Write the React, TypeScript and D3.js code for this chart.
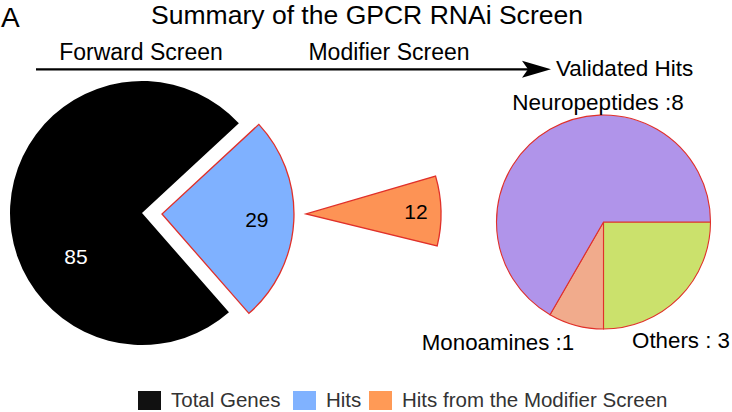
import React from "react";
import * as d3 from "d3";

const W = 732;
const H = 412;

const titleText = "Summary of the GPCR RNAi Screen";
const panelLabel = "A";
const stageLabels = ["Forward Screen", "Modifier Screen", "Validated Hits"];

const forwardCategories = ["Hits", "Total Genes"];
const forwardValues = [29, 85];

const modifierCategory = "Hits from the Modifier Screen";
const modifierValue = 12;

const validatedCategories = ["Others", "Monoamines", "Neuropeptides"];
const validatedValues = [3, 1, 8];
const validatedLabelText = ["Others : 3", "Monoamines :1", "Neuropeptides :8"];

const legendLabels = ["Total Genes", "Hits", "Hits from the Modifier Screen"];

const FONT = "'Liberation Sans', Arial, Helvetica, sans-serif";
const deg = Math.PI / 180;

export default function App() {
  // Forward screen pie
  const fc = { x: 142, y: 213 };
  const fr = 132;
  const hitsSpan = (forwardValues[0] / d3.sum(forwardValues)) * 2 * Math.PI;
  const hitsMid = 93 * deg;
  const fStart = hitsMid - hitsSpan / 2;
  const fPie = d3.pie<number>().sort(null).startAngle(fStart).endAngle(fStart + 2 * Math.PI);
  const fArcs = fPie(forwardValues);
  const fArc = d3.arc<d3.PieArcDatum<number>>().innerRadius(0).outerRadius(fr);
  const explode = 20;
  const hitsArc = fArcs[0];
  const hmid = (hitsArc.startAngle + hitsArc.endAngle) / 2;
  const hitsOff = { x: explode * Math.sin(hmid), y: -explode * Math.cos(hmid) };
  const hitsLabelPos = d3.arc<any>().innerRadius(95).outerRadius(95).centroid(hitsArc as any);

  // Modifier wedge
  const mc = { x: 306, y: 214 };
  const mr = 135;
  const angleScale = d3.scaleLinear().domain([0, 144]).range([0, 2 * Math.PI]);
  const mSpan = angleScale(modifierValue);
  const mMid = 88.7 * deg;
  const mDatum: any = { startAngle: mMid - mSpan / 2, endAngle: mMid + mSpan / 2 };
  const mPath = d3.arc<any>().innerRadius(0).outerRadius(mr)(mDatum) || "";
  const mLabel = d3.arc<any>().innerRadius(110).outerRadius(110).centroid(mDatum);

  // Validated pie
  const vc = { x: 603.5, y: 222 };
  const vr = 107;
  const vPie = d3.pie<number>().sort(null).startAngle(Math.PI / 2).endAngle(Math.PI / 2 + 2 * Math.PI);
  const vArcs = vPie(validatedValues);
  const vArc = d3.arc<d3.PieArcDatum<number>>().innerRadius(0).outerRadius(vr);
  const vColors = d3.scaleOrdinal<string, string>().domain(validatedCategories).range(["#CBE16C", "#F1AB8C", "#B094EA"]);

  const colorScale = d3
    .scaleOrdinal<string, string>()
    .domain(["Total Genes", "Hits", modifierCategory])
    .range(["#000000", "#7FB1FF", "#FD9355"]);
  const legendColor = d3
    .scaleOrdinal<string, string>()
    .domain(legendLabels)
    .range(["#111111", "#80B2FF", "#FF9A56"]);

  const stroke = "#E0302A";

  // legend layout
  const legendFont = 20.5;
  const sqW = 23;
  const sqH = 19;
  const legendX = [138, 293, 369];

  return (
    <svg
      width={W}
      height={H}
      viewBox={`0 0 ${W} ${H}`}
      style={{ position: "absolute", left: 0, top: 0, background: "#fff" }}
      fontFamily={FONT}
    >
      <rect width={W} height={H} fill="#fff" />
      <text x={1} y={27} fontSize={28} fill="#000">{panelLabel}</text>
      <text x={151} y={24} fontSize={25} textLength={432} lengthAdjust="spacingAndGlyphs" fill="#000">
        {titleText}
      </text>

      {/* stage labels and arrow */}
      <text x={141} y={60} fontSize={23} textAnchor="middle" fill="#000">{stageLabels[0]}</text>
      <text x={389} y={60} fontSize={23} textAnchor="middle" fill="#000">{stageLabels[1]}</text>
      <line x1={36} y1={69.3} x2={530} y2={69.3} stroke="#000" strokeWidth={2.2} />
      <path d="M522,60.8 L551,69.3 L522,77.8 L528,69.3 Z" fill="#000" />
      <text x={556} y={76} fontSize={22.5} fill="#000">{stageLabels[2]}</text>

      {/* forward pie */}
      <g transform={`translate(${fc.x},${fc.y})`}>
        <path d={fArc(fArcs[1]) || ""} fill={colorScale(forwardCategories[1])} />
        <text x={-66} y={43} fontSize={21} fill="#fff" textAnchor="middle" dominantBaseline="central">
          {forwardValues[1]}
        </text>
        <g transform={`translate(${hitsOff.x},${hitsOff.y})`}>
          <path d={fArc(hitsArc) || ""} fill={colorScale(forwardCategories[0])} stroke={stroke} strokeWidth={1.3} />
          <text
            x={hitsLabelPos[0]}
            y={hitsLabelPos[1]}
            fontSize={21}
            fill="#000"
            textAnchor="middle"
            dominantBaseline="central"
          >
            {forwardValues[0]}
          </text>
        </g>
      </g>

      {/* modifier wedge */}
      <g transform={`translate(${mc.x},${mc.y})`}>
        <path d={mPath} fill={colorScale(modifierCategory)} stroke={stroke} strokeWidth={1.3} />
        <text x={mLabel[0]} y={mLabel[1]} fontSize={21} fill="#000" textAnchor="middle" dominantBaseline="central">
          {modifierValue}
        </text>
      </g>

      {/* validated pie */}
      <g transform={`translate(${vc.x},${vc.y})`}>
        {vArcs.map((a, i) => (
          <path key={i} d={vArc(a) || ""} fill={vColors(validatedCategories[i])} stroke={stroke} strokeWidth={1.1} />
        ))}
      </g>
      <text x={598} y={110} fontSize={22.5} textAnchor="middle" fill="#000">{validatedLabelText[2]}</text>
      <text x={498} y={350} fontSize={22.3} textAnchor="middle" fill="#000">{validatedLabelText[1]}</text>
      <text x={681} y={348} fontSize={22.3} textAnchor="middle" fill="#000">{validatedLabelText[0]}</text>

      {/* legend */}
      {legendLabels.map((l, i) => (
        <g key={i}>
          <rect x={legendX[i]} y={391} width={sqW} height={sqH} fill={legendColor(l)} />
          <text x={legendX[i] + sqW + 10} y={407} fontSize={legendFont} fill="#333">{l}</text>
        </g>
      ))}
    </svg>
  );
}
